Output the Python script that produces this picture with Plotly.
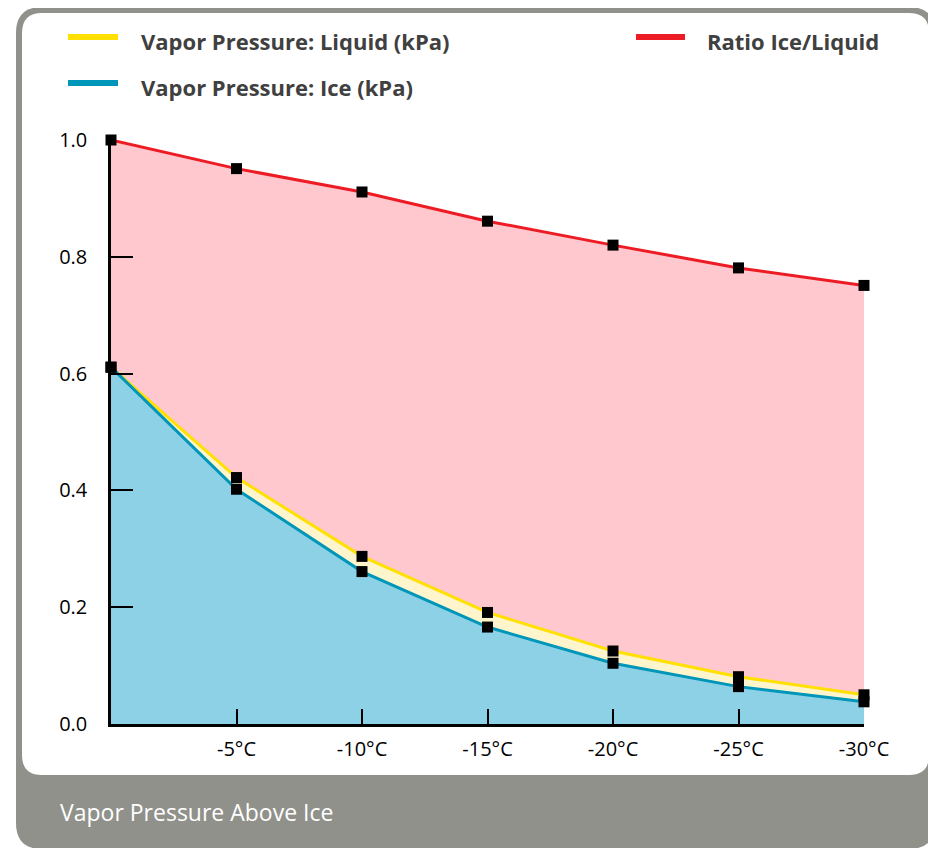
import plotly.graph_objects as go

# ---- data ----
categories = ["0°C", "-5°C", "-10°C", "-15°C", "-20°C", "-25°C", "-30°C"]
tick_labels = ["", "-5°C", "-10°C", "-15°C", "-20°C", "-25°C", "-30°C"]
vp_liquid = [0.611, 0.422, 0.287, 0.191, 0.125, 0.081, 0.050]
vp_ice = [0.611, 0.402, 0.261, 0.166, 0.104, 0.064, 0.038]
ratio = [1.000, 0.951, 0.911, 0.861, 0.820, 0.781, 0.751]
y_ticks = [0.0, 0.2, 0.4, 0.6, 0.8, 1.0]
y_tick_labels = ["0.0", "0.2", "0.4", "0.6", "0.8", "1.0"]

x_pos = list(range(len(categories)))

OFF = 8  # page body margin
W, H = 936 - OFF, 848 - OFF
# plot area in reference-page pixels
L, R, T, B = 111, 864, 140, 724


def px(x):
    return (x - L) / (R - L)


def py(y):
    return (B - y) / (B - T)


def rrect(x0, y0, x1, y1, r):
    pts = [
        f"M{px(x0 + r)},{py(y0)}",
        f"L{px(x1 - r)},{py(y0)}",
        f"Q{px(x1)},{py(y0)} {px(x1)},{py(y0 + r)}",
        f"L{px(x1)},{py(y1 - r)}",
        f"Q{px(x1)},{py(y1)} {px(x1 - r)},{py(y1)}",
        f"L{px(x0 + r)},{py(y1)}",
        f"Q{px(x0)},{py(y1)} {px(x0)},{py(y1 - r)}",
        f"L{px(x0)},{py(y0 + r)}",
        f"Q{px(x0)},{py(y0)} {px(x0 + r)},{py(y0)}",
        "Z",
    ]
    return " ".join(pts)


RED = "#ED1C24"
YEL = "#FFE000"
BLU = "#0096B9"

fig = go.Figure()
fig.add_trace(go.Scatter(x=x_pos, y=ratio, mode="lines", fill="tozeroy",
                         fillcolor="#FFC7CE", line=dict(color=RED, width=3),
                         name="Ratio Ice/Liquid", cliponaxis=False))
fig.add_trace(go.Scatter(x=x_pos, y=vp_liquid, mode="lines", fill="tozeroy",
                         fillcolor="#FFF5CC", line=dict(color=YEL, width=3),
                         name="Vapor Pressure: Liquid (kPa)", cliponaxis=False))
fig.add_trace(go.Scatter(x=x_pos, y=vp_ice, mode="lines", fill="tozeroy",
                         fillcolor="#8DD1E6", line=dict(color=BLU, width=3),
                         name="Vapor Pressure: Ice (kPa)", cliponaxis=False))
for series in (ratio, vp_liquid, vp_ice):
    fig.add_trace(go.Scatter(x=x_pos, y=series, mode="markers",
                             marker=dict(symbol="square", size=11, color="black",
                                         line=dict(width=0)),
                             cliponaxis=False, hoverinfo="skip"))

shapes = [
    dict(type="path", xref="paper", yref="paper", layer="below",
         path=rrect(16, 7, 935, 849, 26), fillcolor="#91918B", line=dict(width=0)),
    dict(type="path", xref="paper", yref="paper", layer="below",
         path=rrect(22, 13, 929, 775, 20), fillcolor="white", line=dict(width=0)),
]

legend_items = [
    ("Vapor Pressure: Liquid (kPa)", YEL, 68, 118, 139, 41),
    ("Vapor Pressure: Ice (kPa)", BLU, 68, 118, 139, 87),
    ("Ratio Ice/Liquid", RED, 636, 685, 705, 41),
]
annotations = []
for text, col, lx0, lx1, tx, ty in legend_items:
    shapes.append(dict(type="line", xref="paper", yref="paper",
                       x0=px(lx0), x1=px(lx1), y0=py(ty - 4), y1=py(ty - 4),
                       line=dict(color=col, width=6)))
    annotations.append(dict(xref="paper", yref="paper", x=px(tx), y=py(ty),
                            text=f"<b>{text}</b>", showarrow=False,
                            xanchor="left", yanchor="middle",
                            font=dict(family="Open Sans", size=22, color="#404040")))

annotations.append(dict(xref="paper", yref="paper", x=px(58), y=py(812),
                        text="Vapor Pressure Above Ice", showarrow=False,
                        xanchor="left", yanchor="middle",
                        font=dict(family="Open Sans", size=23, color="white")))

fig.update_layout(
    width=W, height=H,
    margin=dict(l=L - OFF, r=W - (R - OFF), t=T - OFF, b=H - (B - OFF)),
    paper_bgcolor="white",
    plot_bgcolor="rgba(0,0,0,0)",
    showlegend=False,
    shapes=shapes,
    annotations=annotations,
    font=dict(family="Open Sans", size=20, color="black"),
)
fig.update_xaxes(range=[0, 6], tickvals=x_pos[1:], ticktext=tick_labels[1:],
                 showgrid=False, zeroline=False, showline=True,
                 linecolor="black", linewidth=2.5, ticks="inside", ticklen=15,
                 tickwidth=2, tickcolor="black", ticklabelstandoff=5,
                 tickfont=dict(family="Open Sans", size=20, color="black"))
fig.update_yaxes(range=[0, 1.0], tickvals=y_ticks, ticktext=y_tick_labels,
                 showgrid=False, zeroline=False, showline=True,
                 linecolor="black", linewidth=2.5, ticks="inside", ticklen=22,
                 tickwidth=2, tickcolor="black", ticklabelstandoff=17,
                 tickfont=dict(family="Open Sans", size=20, color="black"))

fig.write_html("out.html")
